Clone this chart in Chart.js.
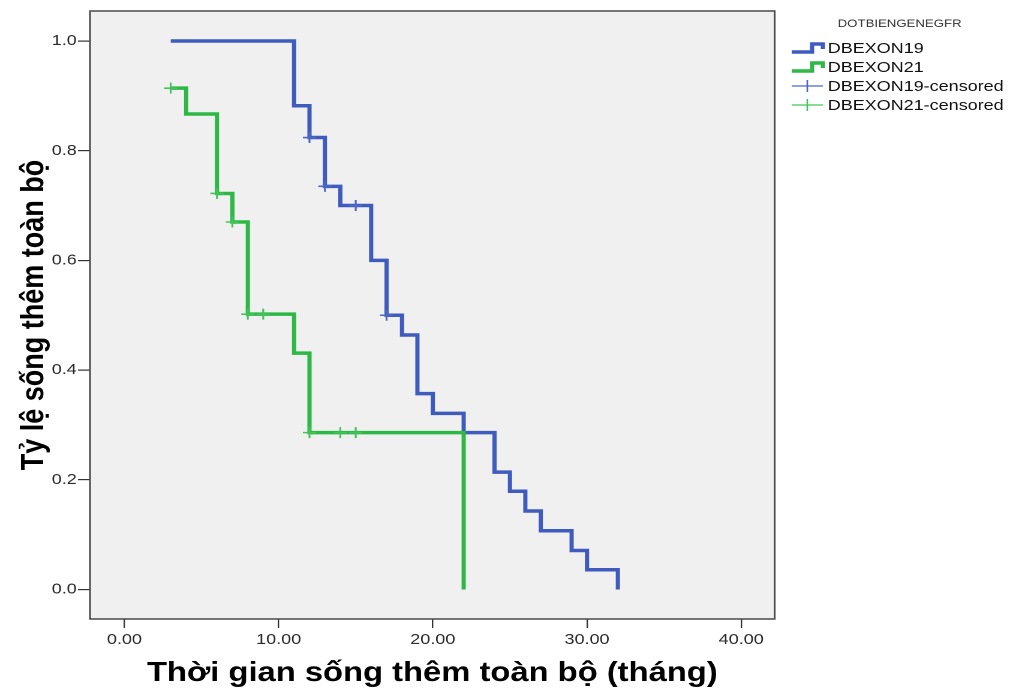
<!DOCTYPE html>
<html>
<head>
<meta charset="utf-8">
<script src="https://cdn.jsdelivr.net/npm/chart.js@4.4.1/dist/chart.umd.min.js"></script>
<style>
  html, body { margin: 0; padding: 0; background: #ffffff; overflow: hidden; }
  #wrap { width: 842px; height: 690px; transform: scaleX(1.19952); transform-origin: 0 0; }
</style>
</head>
<body>
<div id="wrap"><canvas id="c" width="842" height="690" style="width:842px;height:690px"></canvas></div>
<script>
// ---- data ----
const exon19Time = [3, 11, 12, 13, 14, 16, 17, 18, 19, 20, 22, 24, 25, 26, 27, 29, 30, 32];
const exon19Surv = [1.000, 0.882, 0.824, 0.735, 0.700, 0.600, 0.500, 0.464, 0.357, 0.321, 0.286, 0.214, 0.179, 0.143, 0.107, 0.071, 0.036, 0.000];
const exon21Time = [3, 4, 6, 7, 8, 11, 12, 22];
const exon21Surv = [0.914, 0.867, 0.722, 0.670, 0.502, 0.431, 0.286, 0.000];
const exon19CensTime = [12, 13, 15, 17];
const exon19CensSurv = [0.824, 0.735, 0.700, 0.500];
const exon21CensTime = [3, 6, 7, 8, 9, 12, 14, 15];
const exon21CensSurv = [0.914, 0.722, 0.670, 0.502, 0.502, 0.286, 0.286, 0.286];
const xTickValues = [0, 10, 20, 30, 40];
const yTickValues = [0, 0.2, 0.4, 0.6, 0.8, 1.0];
const seriesNames = ['DBEXON19', 'DBEXON21', 'DBEXON19-censored', 'DBEXON21-censored'];
const legendTitle = 'DOTBIENGENEGFR';
const xTitle = 'Thời gian sống thêm toàn bộ (tháng)';
const yTitle = 'Tỷ lệ sống thêm toàn bộ';

const BLUE = '#3e5bbd';
const GREEN = '#2db845';
const BLUE_C = '#4c69c6';
const GREEN_C = '#44c35a';
const FONT = "'Liberation Sans', Arial, sans-serif";

const pts = (xs, ys) => xs.map((x, i) => ({ x: x, y: ys[i] }));

const plotFrame = {
  id: 'plotFrame',
  beforeDraw(chart) {
    const a = chart.chartArea, ctx = chart.ctx;
    ctx.save();
    ctx.fillStyle = '#f0f0f0';
    ctx.fillRect(a.left, a.top, a.right - a.left, a.bottom - a.top);
    ctx.restore();
  },
  beforeDatasetsDraw(chart) {
    const a = chart.chartArea, ctx = chart.ctx;
    ctx.save();
    ctx.strokeStyle = '#4a4a4a';
    ctx.lineWidth = 1.5;
    ctx.strokeRect(a.left, a.top, a.right - a.left, a.bottom - a.top);
    ctx.restore();
  }
};

const customLegend = {
  id: 'customLegend',
  afterDraw(chart) {
    const ctx = chart.ctx;
    ctx.save();
    ctx.fillStyle = '#333';
    ctx.font = '11px ' + FONT;
    ctx.textAlign = 'center';
    ctx.textBaseline = 'middle';
    ctx.fillText(legendTitle, 750, 24);
    const rows = [48, 67, 86, 105];
    const x0 = 660, x1 = 686, tx = 690;
    ctx.textAlign = 'left';
    ctx.font = '15px ' + FONT;
    const ds = chart.data.datasets;
    rows.forEach((y, i) => {
      const d = ds[i];
      ctx.lineCap = 'butt';
      ctx.lineJoin = 'miter';
      if (i < 2) {
        ctx.strokeStyle = d.borderColor;
        ctx.lineWidth = 3.5;
        ctx.beginPath();
        ctx.moveTo(x0, y + 4);
        ctx.lineTo(x0 + 17, y + 4);
        ctx.lineTo(x0 + 17, y - 4);
        ctx.lineTo(x1, y - 4);
        ctx.lineTo(x1, y + 1);
        ctx.stroke();
      } else {
        ctx.strokeStyle = d.borderColor;
        ctx.lineWidth = 1.3;
        ctx.beginPath();
        ctx.moveTo(x0, y);
        ctx.lineTo(x1, y);
        ctx.moveTo((x0 + x1) / 2, y - 6);
        ctx.lineTo((x0 + x1) / 2, y + 6);
        ctx.stroke();
      }
      ctx.fillStyle = '#111';
      ctx.fillText(d.label, tx, y + 1);
    });
    ctx.restore();
  }
};

new Chart(document.getElementById('c'), {
  type: 'scatter',
  data: {
    datasets: [
      { label: seriesNames[0], data: pts(exon19Time, exon19Surv), showLine: true, stepped: true,
        borderColor: BLUE, backgroundColor: BLUE, borderWidth: 3.5, pointRadius: 0,
        borderCapStyle: 'butt', borderJoinStyle: 'miter', order: 4 },
      { label: seriesNames[1], data: pts(exon21Time, exon21Surv), showLine: true, stepped: true,
        borderColor: GREEN, backgroundColor: GREEN, borderWidth: 3.5, pointRadius: 0,
        borderCapStyle: 'butt', borderJoinStyle: 'miter', order: 3 },
      { label: seriesNames[2], data: pts(exon19CensTime, exon19CensSurv), showLine: false,
        pointStyle: 'cross', pointRadius: 5.5, pointBorderWidth: 1.6,
        borderColor: BLUE_C, backgroundColor: BLUE_C, order: 2 },
      { label: seriesNames[3], data: pts(exon21CensTime, exon21CensSurv), showLine: false,
        pointStyle: 'cross', pointRadius: 5.5, pointBorderWidth: 1.6,
        borderColor: GREEN_C, backgroundColor: GREEN_C, order: 1 }
    ]
  },
  options: {
    responsive: false,
    animation: false,
    devicePixelRatio: 2,
    layout: { padding: { left: 0, right: 196.2, top: 11, bottom: 0 } },
    plugins: { legend: { display: false }, tooltip: { enabled: false } },
    elements: { line: { tension: 0 } },
    scales: {
      x: {
        type: 'linear', min: -2.237, max: 42.17,
        afterBuildTicks(s) { s.ticks = xTickValues.map(v => ({ value: v })); },
        afterFit(s) { s.height = 71; },
        grid: { drawOnChartArea: false, drawTicks: true, tickLength: 9, color: '#333', lineWidth: 1.2 },
        border: { display: false },
        ticks: { color: '#2a2a2a', font: { family: FONT, size: 15 }, padding: 3,
                 maxRotation: 0, autoSkip: false, callback: v => Number(v).toFixed(2) },
        title: { display: true, text: xTitle, color: '#000',
                 font: { family: FONT, size: 27.3, weight: 'bold', lineHeight: 1 },
                 padding: { top: 0, bottom: 3 } }
      },
      y: {
        type: 'linear', min: -0.0538, max: 1.0547,
        afterBuildTicks(s) { s.ticks = yTickValues.map(v => ({ value: v })); },
        afterFit(s) { s.width = 75; },
        grid: { drawOnChartArea: false, drawTicks: true, tickLength: 10, color: '#333', lineWidth: 1.2 },
        border: { display: false },
        ticks: { color: '#2a2a2a', font: { family: FONT, size: 15 }, padding: 1,
                 autoSkip: false, callback: v => Number(v).toFixed(1) },
        title: { display: true, text: yTitle, color: '#000',
                 font: { family: FONT, size: 27, weight: 'bold', lineHeight: 1 },
                 padding: { top: 15, bottom: 0 } }
      }
    }
  },
  plugins: [plotFrame, customLegend]
});
</script>
</body>
</html>
